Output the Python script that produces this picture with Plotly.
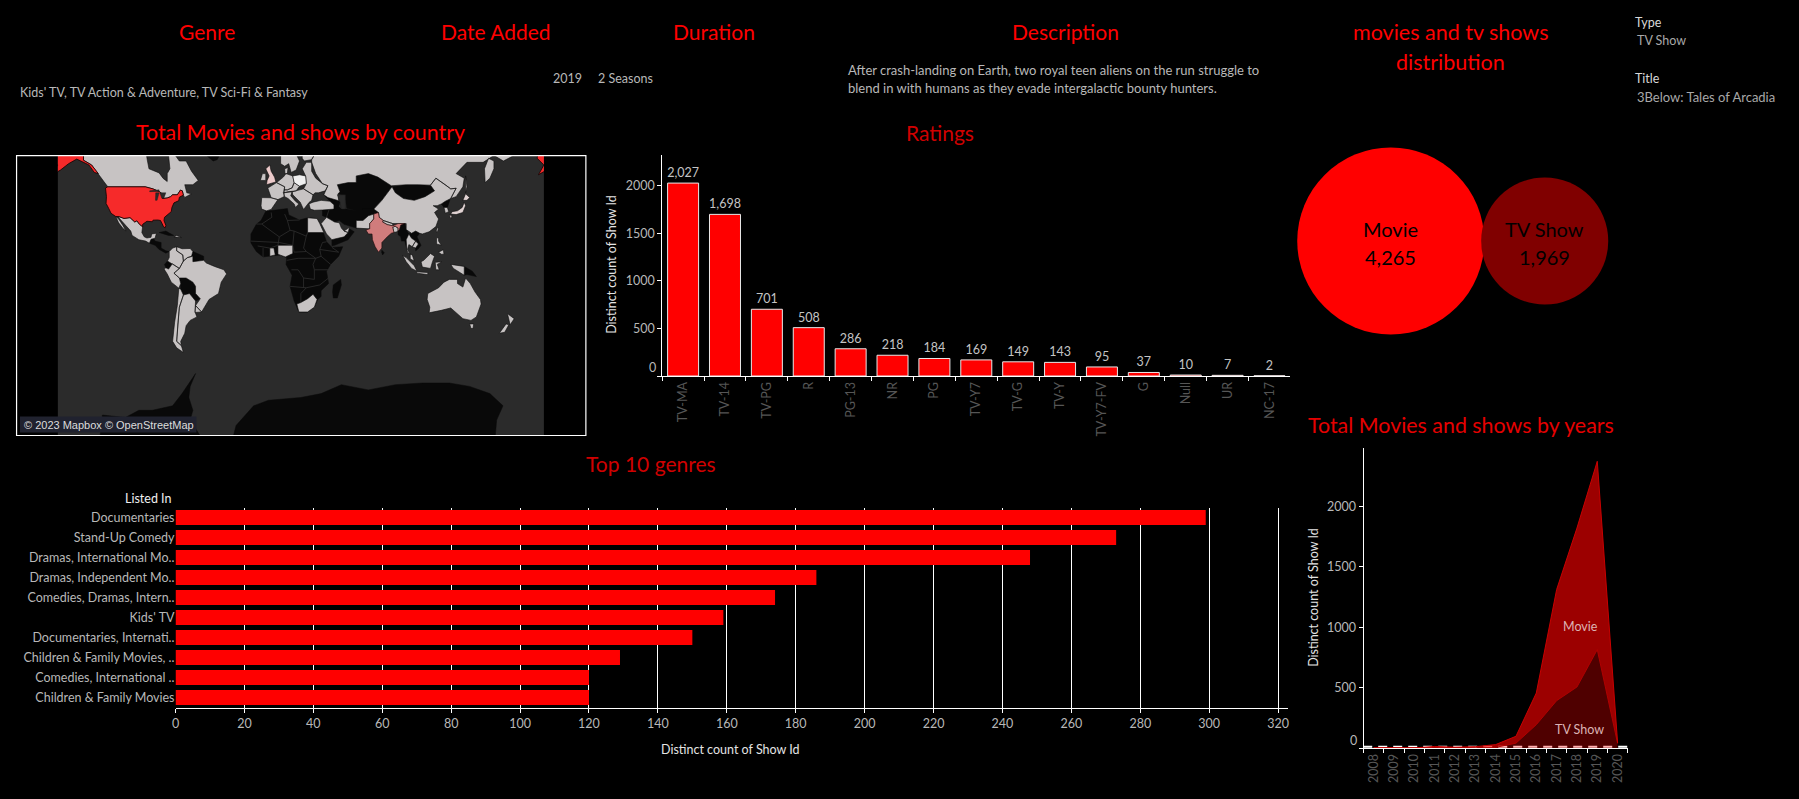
import math
import plotly.graph_objects as go

W, H = 1799, 799
FONT = "Lato"
RED = "#ff0000"
LIGHT = "#b8b8b8"
DIM = "#565656"

rating_labels = ["TV-MA","TV-14","TV-PG","R","PG-13","NR","PG","TV-Y7","TV-G","TV-Y","TV-Y7-FV","G","Null","UR","NC-17"]
rating_values = [2027,1698,701,508,286,218,184,169,149,143,95,37,10,7,2]

genre_labels = ["Documentaries","Stand-Up Comedy","Dramas, International Mo..","Dramas, Independent Mo..",
                "Comedies, Dramas, Intern..","Kids' TV","Documentaries, Internati..",
                "Children & Family Movies, ..","Comedies, International ..","Children & Family Movies"]
genre_values = [299,273,248,186,174,159,150,129,120,120]

years = ["2008","2009","2010","2011","2012","2013","2014","2015","2016","2017","2018","2019","2020"]
tv_by_year = [1,0,0,1,3,6,5,40,193,392,505,814,38]
movie_by_year = [1,2,1,12,4,5,23,57,262,919,1315,1559,3]

type_labels = ["Movie","TV Show"]
type_values = [4265,1969]

# ---- country outlines (lon, lat) ----
USA = [(-124.7,48.4),(-123,49),(-95.2,49),(-89.6,48),(-84.5,46.5),(-82.5,45.3),(-82.5,43),(-79,43.3),(-76.5,44),(-75,45),(-71.5,45),(-69.2,47.4),(-67.8,47),(-67,44.8),(-70,43.7),(-70.5,41.8),(-74,40.6),(-75.5,38),(-76,35.5),(-78,33.9),(-81,32),(-81.4,30),(-80,26.8),(-80.5,25.2),(-81.8,26),(-82.8,28),(-84,30),(-86,30.3),(-89.5,30.2),(-90,29.2),(-94,29.5),(-97.2,27.5),(-97.2,25.9),(-99.5,27.5),(-101.5,29.8),(-103,29),(-106.5,31.8),(-111,31.3),(-114.8,32.5),(-117.1,32.5),(-120.6,34.5),(-122.4,37.5),(-124.3,40.3),(-124,44)]
ALASKA = [(-168,65.6),(-166,68.3),(-156,71.3),(-141,69.6),(-141,60.3),(-135,58.5),(-130,55),(-133,55.5),(-137,58.5),(-146,60.7),(-152,59),(-158,56.5),(-164,54.5),(-160,58.5),(-165,61),(-164,64)]
INDIA = [(68.2,23.7),(70,21),(72.7,21),(73,17),(75,12),(77.5,8),(80,11),(80,15),(84,19),(87,21.5),(89,22),(88,25.5),(89.8,26.3),(92,25),(92,23),(93,24),(94,27),(97,28),(92,28),(88,27),(88,26.5),(84,27.3),(80.5,29),(81,30),(78,32),(77.5,35),(74,34),(74,31),(71,28),(71,24.5)]
UK = [(-5.5,50),(1.5,51.3),(0.5,53.5),(-2,56),(-3,58.5),(-6,57),(-3.5,54),(-5,52)]
JAPAN = [[(131,34),(135,33.7),(140,35),(142,39),(141,41),(139.5,38),(136,36),(132,35.5)],
         [(140,42),(143,42),(145,43.5),(142,45.5)],[(130,33.5),(132,33),(131,31)]]
POLAND = [(14,54),(19,54.5),(23.5,54),(24,50.5),(19,49.3),(15,51)]

LIGHT_LAND = [
 [(-141,69.6),(-128,70),(-115,68),(-96,68),(-94,61),(-92.5,57),(-85,55.3),(-82,52.9),(-79,51.5),(-79,55),(-77,57),(-78,62),(-73,62),(-70,60),(-65,60),(-61,56),(-56,52),(-60,50),(-66,50),(-65,48),(-64.5,46),(-61,45.5),(-66,43.6),(-67,44.8),(-67.8,47),(-69.2,47.4),(-71.5,45),(-75,45),(-76.5,44),(-79,43.3),(-82.5,43),(-82.5,45.3),(-84.5,46.5),(-89.6,48),(-95.2,49),(-123,49),(-130,55),(-135,58.5),(-141,60.3)],
 [(-114.8,32.5),(-111,31.3),(-106.5,31.8),(-103,29),(-101.5,29.8),(-99.5,27.5),(-97.2,25.9),(-97.8,22),(-96,19),(-94,18.2),(-91,18.7),(-90.5,21),(-87,21.5),(-88,18),(-89,17.8),(-91,17.3),(-92.2,14.5),(-95,16),(-100,17),(-105,20),(-106,23),(-109.3,26.5),(-112.7,30),(-114.7,31.6)],
 [(-117.1,32.5),(-115,31),(-112,27),(-109.5,23),(-112,25),(-115,28.5)],
 [(-74,19),(-68.5,18.5),(-72,20)],
 [(-77.5,8.5),(-75,11),(-72,12),(-72,9),(-67.5,6),(-67,1.5),(-70,-4),(-75.2,-0.5),(-78.8,1.5),(-77.5,4)],
 [(-72,12),(-68,10.5),(-62,10.7),(-60,8.5),(-61,5),(-64,4),(-67,1.5),(-67.5,6),(-72,9)],
 [(-60,5),(-60,1),(-52,2),(-50,0),(-44,-2.5),(-37,-5),(-35,-8),(-39,-14),(-41,-22),(-48,-26),(-53.5,-34),(-58,-30),(-54.5,-25.5),(-58,-22),(-58,-17),(-60,-14),(-65,-11),(-70,-11),(-74,-7.5),(-70,-4),(-67,1.5),(-64,4)],
 [(-81.3,-4.5),(-80,-3.5),(-78,-4.5),(-75.2,-0.5),(-70,-4),(-74,-7.5),(-70,-11),(-69,-15),(-70.4,-18.3),(-76,-14),(-79,-8)],
 [(-70.4,-18.3),(-69,-19),(-67,-23),(-70,-31),(-71,-40),(-72,-50),(-68.5,-52),(-67,-55),(-72,-53),(-75,-50),(-73.5,-40),(-71.5,-30)],
 [(-67,-23),(-62.5,-22),(-58,-27),(-58,-30),(-58.4,-34),(-57,-37),(-62,-39),(-65,-42),(-66,-46),(-69,-50),(-68.5,-52),(-72,-50),(-71,-40),(-70,-31)],
 [(-58,-30),(-53.5,-34),(-58.4,-34.3)],
 [(-9,43.5),(-2,43.4),(3,42.4),(0,39),(-2,36.8),(-5.5,36),(-9,37),(-9.5,39)],
 [(-2,43.4),(-4.5,48.4),(2,51),(8,49),(7.5,44),(3,42.4)],
 [(-10,52),(-6,52),(-6,55),(-8.5,55)],
 [(2,51),(4,52),(7,53.5),(9,55),(14,54),(15,51),(13.5,48.5),(10,47.5),(7.5,47.5),(8,49)],
 [(7.5,47.5),(10,47.5),(13.5,48.5),(15,51),(19,49.3),(16.5,47),(10,46.5),(7,46)],
 [(7,46),(13.5,46.5),(12.5,44.5),(16,41.5),(18.5,40),(16,38),(15,40),(10.5,43),(8,44)],
 [(13.5,46.5),(16.5,47),(22,48),(29,45),(28,42),(26,40.8),(23.5,38),(22,36.8),(19.5,41),(14,45)],
 [(5,59),(8,58),(11,59),(12.8,55.5),(16.5,56.5),(19,60),(17,62),(20,65),(10,65),(5,62)],
 [(21,61),(22.5,60),(28,60.5),(31,63),(25,65),(21,64)],
 [(8.2,55),(10,55),(10.5,57.5),(8,57)],
 [(23.5,54),(21,57),(24,59.5),(28,59.5),(31,55),(36,50.5),(40,49.5),(38,47),(33,46),(30.5,46),(29,45),(22,48),(24,50.5)],
 [(26,40),(29,41),(35,42),(41.5,41.5),(44.5,39.5),(44.5,37),(36,36.5),(30,36.3),(27,37)],
 [(28,60),(28,56),(31,53),(36,50.5),(40,49.5),(38,47),(37,45),(40,43.5),(48,41.8),(47.5,45.5),(49,46.5),(47,50),(55,51),(61,51),(61,54),(70,55),(77,53.5),(87,49.5),(98,50),(107,50),(116,49.8),(120,53),(127,50),(131,48),(135,48.3),(131,43),(135,44),(140,49),(141,53),(135,55),(143,59.5),(155,59.5),(163,62),(170,60),(180,62.5),(190,66),(180,72),(100,78),(60,72),(40,67),(31,65),(31,63),(28,60.5)],
 [(156,57),(156.5,51),(160,53),(163,57),(163,60),(159,61)],
 [(142,54),(143,49),(142,46),(142,50)],
 [(74,37),(80,42),(87.5,49),(90,46),(96,43),(104,42),(112,44),(119,47),(116,49.8),(120,53),(127,50),(131,48),(135,48.3),(131,43),(127,41.5),(124,40),(121,39),(118,39),(122,37),(119,35),(122,31),(120,26),(115,22.5),(110,21),(108,21.5),(105,23),(102,21.5),(98,24),(98,28),(92,28),(88,28),(81,30),(78,32),(77.5,35)],
 [(126,38),(128.5,38),(129.5,35.5),(127,34.5)],
 [(120.2,23),(121,22),(122,25),(121,25.2)],
 [(61,25),(67,24.5),(71,24.5),(71,28),(74,31),(74,34),(70,33),(66,30),(61,30)],
 [(80.5,29),(84,27.3),(88,26.5),(88,28),(81,30)],
 [(88,25.5),(89,22),(91,22.5),(92,23),(92,25),(89.8,26.3)],
 [(98,17),(100,21),(102,18),(105,16),(102.5,12),(100,13.5),(99,10),(101,6.5),(99,8),(98.5,10)],
 [(102.5,12),(105,16),(107,14),(105,11)],
 [(101,6.5),(102.5,6),(104,1.5),(101,3)],
 [(109,1),(111,2),(116,7),(119,5),(117.5,1),(116,-4),(110,-3)],
 [(95.5,5.5),(98,4),(104,-2),(106,-6),(102,-4),(98,1)],
 [(105.5,-6.5),(114,-7),(114,-8.5),(106,-7.5)],
 [(119.5,0.5),(124.5,1),(121,-1),(122.5,-5),(120,-5)],
 [(131,-1),(138,-2),(141,-2.5),(141,-9),(138,-7),(133,-4)],
 [(120.5,18.5),(122,18),(122,16),(124,13),(120.5,14)],
 [(122,8),(125.5,9.8),(126,6.5),(124,6.5)],
 [(114,-22),(122,-18),(126,-14),(130,-12),(136,-12),(136,-15),(140,-17.5),(142,-11),(145.5,-15),(149,-21),(153,-26),(153.5,-29),(150,-37),(146,-39),(140,-38),(136,-35),(131,-31.5),(124,-33),(115,-34.5),(115.5,-31),(113.5,-26)],
 [(145,-41),(148,-41),(147.5,-43.5),(146,-43.5)],
 [(167,-46),(172,-41),(174,-41.5),(171,-45.5)],
 [(173,-35),(178,-38),(175,-41.5),(174,-39)],
 [(25,31.7),(32,31.2),(34,28),(37,22),(25,22)],
 [(3,6.5),(3,13),(14,13),(14,7),(8.5,4.5),(5,6)],
 [(-3,5),(1,6),(0,11),(-3,11)],
 [(17,-29),(20,-28),(25,-25.5),(29,-22.5),(32,-26),(30,-31),(25,-34),(18.5,-34)],
 [(36,29),(39,32),(45,29),(48.5,28.5),(50,25),(52,23),(55,22),(52,19),(45,17.5),(43,17),(39,21),(35,28)],
 [(52,23),(55,22),(56,25.5),(54,24.5)],
]

NO_DATA_LAND = [
 [(-17,21),(-13,27.5),(-9.5,30),(-6,35.8),(10,37.3),(11,33.5),(19,30.3),(25,31.7),(32,31.2),(34,28),(37,21),(39,15.5),(43,11.5),(51,12),(48,5),(42,-1),(39,-6),(40.5,-15),(35,-20),(35,-24),(32.5,-26),(30,-31),(25,-34),(18.5,-34),(15,-27),(12,-17),(13.5,-9),(9,-1),(9.5,4),(5,6),(-4,5),(-8,4.5),(-13,8.5),(-17,14.7)],
 [(-92.2,14.5),(-91,17.3),(-89,17.8),(-88,16),(-83.5,15),(-83.5,11),(-80,9),(-77.5,8.5),(-80,7.3),(-85,10),(-88,13)],
 [(-85,22),(-80,23),(-74.2,20),(-78,20)],
 [(-60,8.5),(-52,5),(-52,2),(-60,1),(-60,5),(-61,5)],
 [(-80,-3.5),(-81,-1),(-78.8,1.5),(-75.2,-0.5),(-78,-4.5)],
 [(-70,-11),(-65,-11),(-60,-14),(-58,-17),(-58,-20),(-62.5,-22),(-67,-23),(-69,-19),(-69,-15)],
 [(-58,-20),(-58,-22),(-54.5,-25.5),(-58,-27),(-62.5,-22)],
 [(47.5,45.5),(49,46.5),(47,50),(55,51),(61,51),(61,54),(70,55),(77,53.5),(87.5,49),(80,42),(74,37),(66,37),(61,36),(54,37.5),(53,42),(50,45)],
 [(44.5,39.5),(48,38.5),(50,37),(54,37),(61,36),(66,37),(74,37),(77.5,35),(74,34),(70,33),(66,30),(61,30),(61,25),(57,26),(52,27.5),(48.5,30),(45,29),(39,32),(36,33),(36,36.5),(44.5,37)],
 [(37,45),(40,43.5),(48,41.8),(49,41),(48,38.5),(44.5,39.5),(41.5,41.5)],
 [(87.5,49),(98,50),(107,50),(116,49.8),(119,47),(112,44),(104,42),(96,43),(90,46)],
 [(124,40),(127,41.5),(130.5,42.5),(128.5,38),(126,38)],
 [(80,9.5),(81.8,7.5),(80.5,6),(79.8,8)],
 [(92,20.5),(92,23),(93,24),(94,27),(97,28),(98,24),(100,21),(98,17),(98.5,10),(97,16),(94.5,16),(94,19)],
 [(100,21),(102,21.5),(105,23),(108,21.5),(106,19),(109,13),(107,10.5),(105,9),(105,11),(107,14),(105,16),(102,18)],
 [(141,-2.5),(147,-6),(150,-10),(143,-8.5),(141,-9)],
 [(44,-16),(49.5,-12),(50,-16),(47,-25),(44,-25),(43.5,-21)],
 [(43,17),(45,17.5),(52,19),(55,22),(56,24.5),(59.5,22.5),(55,17),(45,13),(43,12.7)],
 [(-45,60),(-42,60.5),(-38,64),(-52,64),(-50,62)],
 [(-130,-80),(-127,-74),(-110,-74.5),(-100,-73),(-90,-73),(-75,-72),(-68,-69),(-60,-64),(-58,-63),(-62,-67),(-63,-70),(-60,-73),(-62,-75),(-47,-80)],
 [(-33,-80),(-28,-76),(-15,-72),(-4,-70.7),(20,-70),(35,-69),(50,-66.5),(70,-68),(90,-66.5),(110,-66),(130,-66),(145,-67),(160,-69),(169.7,-72),(165,-75),(163,-80)],
]

WATER = [
 [(47,45),(53,45),(53,37),(50,37),(49,41)],
 [(-92,47),(-85,47.5),(-85,46.7),(-92,46.6)],
 [(-87.5,46),(-85,46),(-86.5,42),(-87.7,42)],
 [(-84.5,46),(-80,46),(-81.5,43.2),(-83,43.2)],
]

AFRICA_BORDERS = [
 [(-9,27.7),(-1.5,32),(-2,35)],[(-13,27.7),(-9,27.7),(-5,25),(4,19),(12,23.5),(10,30),(8,34)],
 [(10,30),(19,30.3)],[(12,23.5),(15,23),(24,19.5),(25,22)],[(24,19.5),(22,11),(24,8.5),(31,3.5),(35,5),(42,-1)],
 [(-17,16),(-5,15.5),(4,15),(14,13),(15,8),(24,8.5)],[(4,19),(3,13)],[(15,23),(14,13)],
 [(37,22),(25,22)],[(36,15),(34,10),(35,5)],[(39,15.5),(36,15)],[(34,10),(48,8),(43,11.5)],
 [(9.5,2),(18,3.5),(31,3.5)],[(13,-5),(18,-5),(22,-11),(30,-12),(30,-5),(29,-1),(31,3.5)],
 [(12,-17),(24,-18),(34,-16),(40.5,-11)],[(30,-5),(40,-5)],[(22,-11),(22,-18)],[(24,-18),(20,-22),(20,-28)],
 [(-12,12.5),(-3,11),(3,13)],[(-8,4.5),(-8,11)],
 [(39,32),(41,37)],
]


def merc(lat):
    return math.log(math.tan(math.pi / 4 + math.radians(lat) / 2))


def polys(shapes):
    xs, ys = [], []
    for poly in shapes:
        closed = list(poly) + [poly[0]]
        xs += [p[0] for p in closed] + [None]
        ys += [merc(p[1]) for p in closed] + [None]
    return xs, ys


def lines(segs):
    xs, ys = [], []
    for seg in segs:
        xs += [p[0] for p in seg] + [None]
        ys += [merc(p[1]) for p in seg] + [None]
    return xs, ys


def wrap(poly):
    return [(x + 360, y) for x, y in poly]


def xd(a, b):
    return [a / W, b / W]


def yd(top, bottom):
    return [1 - bottom / H, 1 - top / H]


fig = go.Figure()


def land(shapes, fill, edge="#0c0c0c", width=0.6):
    xs, ys = polys(shapes)
    fig.add_trace(go.Scatter(x=xs, y=ys, xaxis="x5", yaxis="y5", mode="lines", fill="toself", fillcolor=fill,
                             line=dict(color=edge, width=width), hoverinfo="skip"))


land(NO_DATA_LAND, "#090909", "#0a0a0a", 0.5)
bx, by = lines(AFRICA_BORDERS)
fig.add_trace(go.Scatter(x=bx, y=by, xaxis="x5", yaxis="y5", mode="lines", line=dict(color="#2e2e2e", width=0.8), hoverinfo="skip"))
land(LIGHT_LAND, "#c7c3c3")
land(JAPAN, "#e0d2d2")
land([UK], "#eccaca")
land([POLAND], "#efefef")
land([INDIA], "#d07c7c", "#1a0808")
land([USA, ALASKA, wrap(ALASKA)], "#f62a2a", "#100000", 0.8)
land(WATER, "#2b2b2b", "#1a1a1a", 0.4)

fig.add_trace(go.Bar(x=rating_labels, y=rating_values, xaxis="x", yaxis="y",
                     marker=dict(color=RED, line=dict(color="#e8e8e8", width=1)), width=0.74,
                     text=[f"{v:,}" for v in rating_values], textposition="outside", cliponaxis=False,
                     textangle=0, constraintext="none", textfont=dict(color="#c4c4c4", size=12.5, family=FONT)))
fig.add_trace(go.Bar(x=genre_values, y=genre_labels, orientation="h", xaxis="x2", yaxis="y2",
                     marker=dict(color=RED, line=dict(width=0)), width=0.75))
fig.add_trace(go.Scatter(x=years, y=tv_by_year, stackgroup="one", mode="lines", line=dict(color="#b00000", width=1),
                         fillcolor="rgba(255,0,0,0.31)", xaxis="x3", yaxis="y3"))
fig.add_trace(go.Scatter(x=years, y=movie_by_year, stackgroup="one", mode="lines", line=dict(color="#c80000", width=1),
                         fillcolor="rgba(255,0,0,0.61)", xaxis="x3", yaxis="y3"))
fig.add_trace(go.Scatter(x=type_labels, y=[0, 0], mode="markers", xaxis="x4", yaxis="y4", cliponaxis=False,
                         marker=dict(size=type_values, sizemode="area", sizeref=2 * 4265 / 187 ** 2,
                                     color=[RED, "#800000"], line=dict(width=0), opacity=1)))

ann = []


def label(x, y, text, size=12.5, color=LIGHT, anchor="left", angle=0, family=FONT):
    ann.append(dict(x=x / W, y=1 - y / H, xref="paper", yref="paper", text=text, showarrow=False, xanchor=anchor,
                    yanchor="middle", textangle=angle, font=dict(size=size, color=color, family=family),
                    borderpad=0, borderwidth=0))


T = 21
label(204, 32, "Genre", T, RED, "center")
label(493, 32, "Date Added", T, RED, "center")
label(712, 32, "Duration", T, RED, "center")
label(1064, 32, "Description", T, RED, "center")
label(1451, 32, "movies and tv shows", 21.5, RED, "center")
label(1451, 61.5, "distribution", 21.5, RED, "center")
label(297, 132, "Total Movies and shows by country", 21.4, RED, "center")
label(939, 132, "Ratings", T, "#d00000", "center")
label(649, 464, "Top 10 genres", T, "#d00000", "center")
label(1461, 425, "Total Movies and shows by years", 21.4, "#e60000", "center")

label(16, 93, "Kids' TV, TV Action &amp; Adventure, TV Sci-Fi &amp; Fantasy")
label(551, 79, "2019")
label(596, 79, "2 Seasons")
label(846, 70, "After crash-landing on Earth, two royal teen aliens on the run struggle to", 13)
label(846, 88, "blend in with humans as they evade intergalactic bounty hunters.", 13)
label(1636, 23, "Type", 12.5, "#d8d8d8")
label(1638, 41, "TV Show", 12.5, "#a8a8a8")
label(1636, 78, "Title", 12.5, "#d8d8d8")
label(1638, 97, "3Below: Tales of Arcadia", 13, "#a8a8a8")

label(608.5, 264, "Distinct count of Show Id", 12.5, "#e4e4e4", "center", -90)
label(1313, 597.5, "Distinct count of Show Id", 12.5, "#e4e4e4", "center", -90)
label(729, 749, "Distinct count of Show Id", 12.5, "#e4e4e4", "center")
label(167, 499, "Listed In", 12.5, "#f0f0f0", "right")
label(1581, 626, "Movie", 12.5, "#dcb4b4", "center")
label(1580, 729, "TV Show", 12.5, "#dcb4b4", "center")
label(654, 367.5, "0", 12.5, LIGHT, "right")
label(1357, 740, "0", 12.5, LIGHT, "right")
label(20, 424.5, "© 2023 Mapbox © OpenStreetMap", 11, "#dcdcdc", "left", 0, "Liberation Sans")
for cx, name, value in zip([1390.6, 1545], type_labels, type_values):
    label(cx, 229, name, 20, "#000000", "center")
    label(cx, 257, f"{value:,}", 20, "#000000", "center")

tick = dict(ticks="outside", ticklen=4, tickcolor="#ffffff", linecolor="#ffffff", linewidth=1, tickwidth=1,
            showline=True, showgrid=False, zeroline=False, tickfont=dict(family=FONT, size=12.5, color=LIGHT))
dimtick = {**tick, "tickfont": dict(family=FONT, size=12.5, color=DIM), "tickangle": -90, "tickson": "boundaries"}
y_vals = [0, 500, 1000, 1500, 2000]
y_text = ["", "500", "1000", "1500", "2000"]

shapes = [
    dict(type="rect", xref="paper", yref="paper", x0=54 / W, x1=541.4 / W, y0=1 - 435 / H, y1=1 - 156 / H,
         fillcolor="#2b2b2b", line=dict(width=0), layer="below"),
    dict(type="rect", xref="paper", yref="paper", x0=12.6 / W, x1=583.5 / W, y0=1 - 435.5 / H, y1=1 - 155.7 / H,
         fillcolor="rgba(0,0,0,0)", line=dict(color="#ffffff", width=1.2), layer="above"),
    dict(type="rect", xref="paper", yref="paper", x0=16 / W, x1=193 / W, y0=1 - 432.5 / H, y1=1 - 416.5 / H,
         fillcolor="#20222f", line=dict(width=0), layer="above"),
    dict(type="line", xref="paper", yref="paper", x0=1363 / W, x1=1628 / W, y0=1 - 746.7 / H, y1=1 - 746.7 / H,
         line=dict(color="#ffffff", width=2, dash="9px,6px"), layer="below"),
]

fig.update_layout(
    width=W, height=H, margin=dict(l=0, r=0, t=0, b=0), paper_bgcolor="#000000", plot_bgcolor="rgba(0,0,0,0)",
    showlegend=False, font=dict(family=FONT, color=LIGHT), annotations=ann, shapes=shapes,
    xaxis=dict(domain=xd(660, 1290), **dimtick),
    yaxis=dict(domain=yd(155, 376), range=[0, 2322], tickvals=y_vals, ticktext=y_text, **tick),
    xaxis2=dict(domain=xd(172, 1288), range=[0, 323], dtick=20, anchor="y2",
                **{**tick, "showgrid": True, "zeroline": True}, gridcolor="#ffffff", gridwidth=1, zerolinecolor="#000000", zerolinewidth=1),
    yaxis2=dict(domain=yd(507.5, 707.5), anchor="x2", autorange="reversed",
                **{**tick, "ticks": "", "showline": False}),
    xaxis3=dict(domain=xd(1363.3, 1628.3), anchor="y3", range=[-.5, 12.5], **dimtick),
    yaxis3=dict(domain=yd(448, 748), anchor="x3", range=[0, 2483], tickvals=y_vals, ticktext=y_text, **tick),
    xaxis4=dict(domain=xd(1313.4, 1622.2), range=[-.5, 1.5], anchor="y4", visible=False),
    yaxis4=dict(domain=yd(148, 334), anchor="x4", visible=False, range=[-1, 1]),
    xaxis5=dict(domain=xd(54, 541.4), range=[-160, 200], anchor="y5", visible=False),
    yaxis5=dict(domain=yd(156, 435), range=[merc(-77.6), merc(61.8)], anchor="x5", visible=False),
)
fig.write_html("out.html", config={"displayModeBar": False},
               post_script="document.body.style.margin='0';document.body.style.background='#000';document.body.style.overflow='hidden';")
